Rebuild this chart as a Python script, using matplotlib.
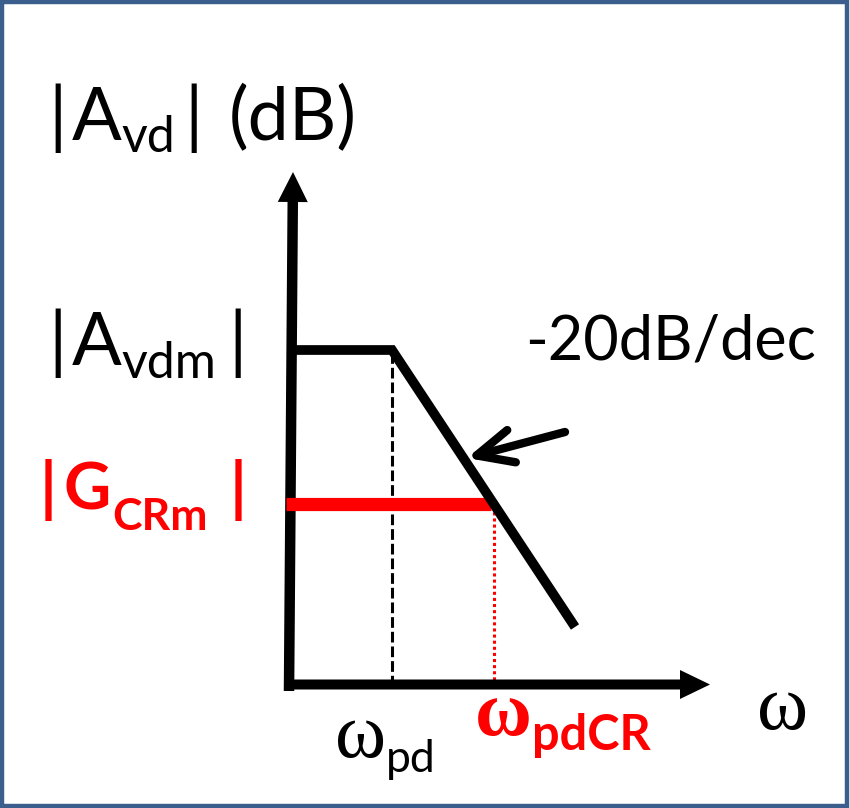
import matplotlib
matplotlib.use("Agg")
import matplotlib.pyplot as plt
from matplotlib.patches import Rectangle
from matplotlib.transforms import IdentityTransform

# Diagrama de Bode asintotico (unidades del dibujo: 1 = 100 px)
w_curve = [0.0, 1.03, 2.86]      # omega: origen, polo, fin de la recta
g_curve = [3.36, 3.36, 0.59]     # |Avd| en cada punto
w_pd = 1.03
w_pdcr = 2.05
g_avdm = 3.36
g_crm = 1.82
w_axis_end = 4.21
g_axis_end = 5.14
slope_tail = (2.76, 2.54)
slope_tip = (1.78, 2.28)

SANS = "Lato"
SERIF = "Liberation Serif"
RED = "#FF0000"

fig = plt.figure(figsize=(8.5, 8.08), dpi=100)
ax = fig.add_axes([0, 0, 1, 1])
ax.set_xlim(-2.89, 5.61)
ax.set_ylim(-1.22, 6.86)
ax.axis("off")

# marco
fig.patches.append(Rectangle((0.002, 0.003), 0.994, 0.994, transform=fig.transFigure,
                             fill=False, ec="#3C5E8C", lw=3.2))

# ejes con flecha
ax.arrow(0, -0.05, 0.04, g_axis_end + 0.05, width=0.105, head_width=0.30,
         head_length=0.30, length_includes_head=True, fc="k", ec="none", zorder=2)
ax.arrow(-0.05, 0.015, w_axis_end + 0.05, 0, width=0.10, head_width=0.29,
         head_length=0.30, length_includes_head=True, fc="k", ec="none", zorder=2)

# lineas auxiliares
ax.plot([w_pd, w_pd], [0, g_avdm], color="k", lw=2.2, dashes=(3.5, 1.3), zorder=1)
ax.plot([w_pdcr, w_pdcr], [0, g_crm], color=RED, lw=2.2, dashes=(1, 1), zorder=1)

# ganancia CR
ax.plot([-0.03, w_pdcr - 0.03], [g_crm, g_crm], color=RED, lw=9.5,
        solid_capstyle="butt", zorder=3)

# respuesta
ax.plot(w_curve, g_curve, color="k", lw=7, solid_capstyle="butt",
        solid_joinstyle="miter", zorder=4)

# flecha de la pendiente
ax.annotate("", xy=slope_tip, xytext=slope_tail,
            arrowprops=dict(arrowstyle="->,head_length=1.3,head_width=0.6",
                            mutation_scale=20, lw=6, color="k",
                            shrinkA=0, shrinkB=0, capstyle="round"), zorder=5)

renderer = fig.canvas.get_renderer()


def rich(x, y, parts, color="k"):
    # texto por partes (subindices) encadenado en pixeles; gap = hueco previo en px
    px, py = ax.transData.transform((x, y))
    for s, size, dy, family, weight, gap in parts:
        t = ax.text(px + gap, py + dy, s, transform=IdentityTransform(), fontsize=size,
                    family=family, weight=weight, color=color,
                    ha="left", va="baseline")
        px = t.get_window_extent(renderer).x1


rich(-2.41, 5.46, [("|", 53, 0, SANS, "normal", 0),
                   ("A", 53, 0, SANS, "normal", 5),
                   ("vd", 36, -12, SANS, "normal", 0),
                   ("|", 53, 0, SANS, "normal", 9),
                   ("(dB)", 53, 0, SANS, "normal", 26)])
rich(-2.41, 3.21, [("|", 53, 0, SANS, "normal", 0),
                   ("A", 53, 0, SANS, "normal", 5),
                   ("vdm", 36, -13, SANS, "normal", 0),
                   ("|", 53, 0, SANS, "normal", 12)])
rich(-2.49, 1.76, [("|", 47, 0, SANS, "bold", 0),
                   ("G", 47, 0, SANS, "bold", 7),
                   ("CRm", 32, -20, SANS, "bold", 1),
                   ("|", 47, 0, SANS, "bold", 22)], color=RED)
rich(2.36, 3.27, [("-20dB/dec", 44, 0, SANS, "normal", 0)])

rich(0.46, -0.71, [("\u03c9", 56, 0, SERIF, "normal", 0),
                   ("pd", 32, -15, SANS, "normal", 0)])
rich(1.86, -0.49, [("\u03c9", 56, 0, SERIF, "bold", 0),
                   ("pdCR", 35, -15, SANS, "bold", 0)], color=RED)
rich(4.68, -0.43, [("\u03c9", 56, 0, SERIF, "normal", 0)])

fig.savefig("out.png", dpi=100)
